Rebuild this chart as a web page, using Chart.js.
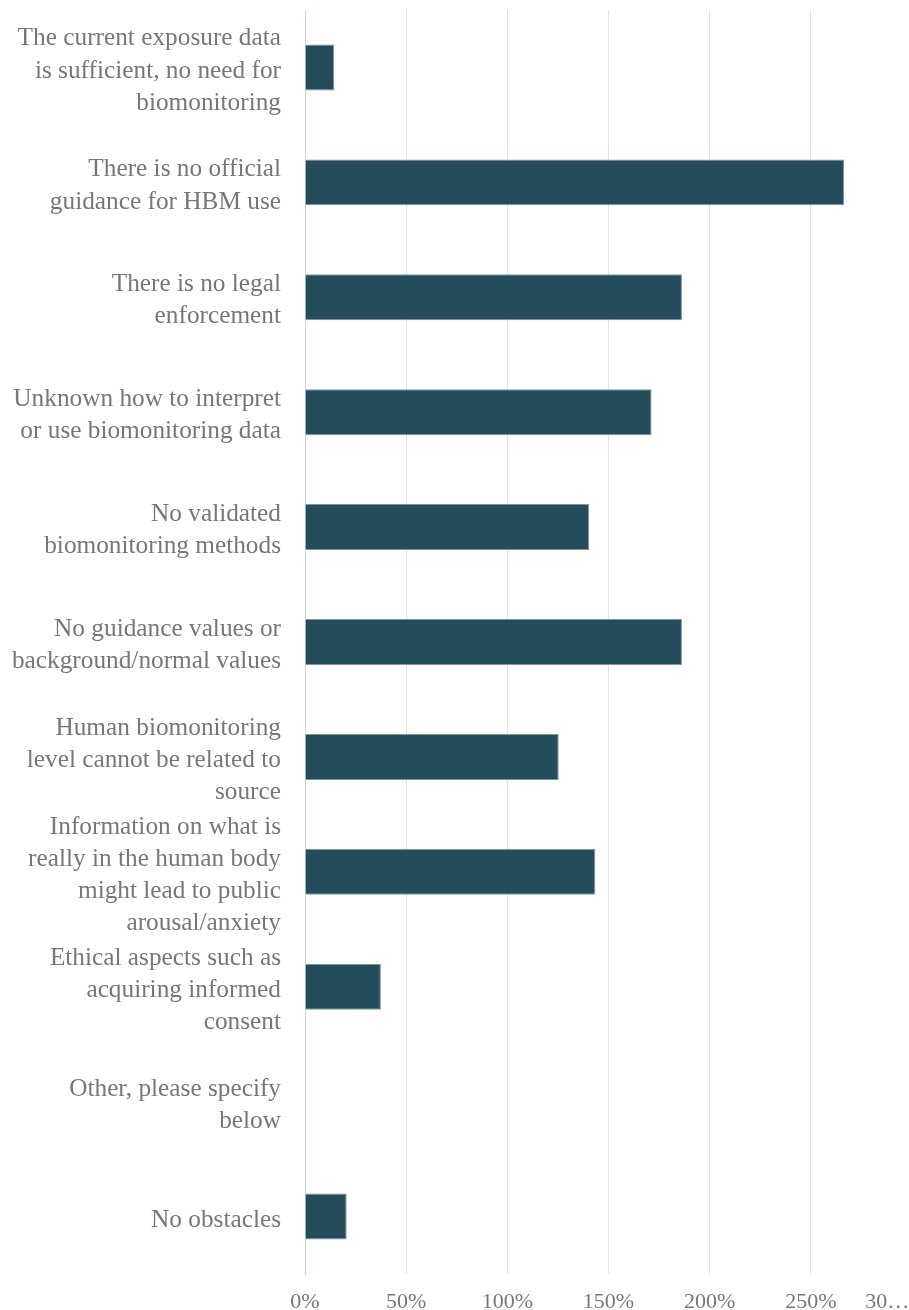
<!DOCTYPE html>
<html>
<head>
<meta charset="utf-8">
<script src="https://cdn.jsdelivr.net/npm/chart.js@4/dist/chart.umd.min.js"></script>
<style>
  html, body { margin: 0; padding: 0; background: #ffffff; overflow: hidden; }
  #wrap { position: relative; width: 912px; height: 1310px; }
</style>
</head>
<body>
<div id="wrap"><canvas id="chart"></canvas></div>
<script>
// Obstacles to using human biomonitoring (share of responses)
const obstacles = [
  ["The current exposure data", "is sufficient, no need for", "biomonitoring"],
  ["There is no official", "guidance for HBM use"],
  ["There is no legal", "enforcement"],
  ["Unknown how to interpret", "or use biomonitoring data"],
  ["No validated", "biomonitoring methods"],
  ["No guidance values or", "background/normal values"],
  ["Human biomonitoring", "level cannot be related to", "source"],
  ["Information on what is", "really in the human body", "might lead to public", "arousal/anxiety"],
  ["Ethical aspects such as", "acquiring informed", "consent"],
  ["Other, please specify", "below"],
  ["No obstacles"]
];

const shares = [14.5, 266.4, 186.3, 171.3, 140.5, 186.3, 125.4, 143.5, 37.5, 0, 20.6];

const axisMax = 300;
const axisStep = 50;
// the last tick label is shown cut short, padded so it stays inside the frame
const lastTickLabel = "30\u2026         ";

const serif = '"Liberation Serif", "Times New Roman", serif';
const labelGrey = '#777777';

new Chart(document.getElementById('chart'), {
  type: 'bar',
  data: {
    labels: obstacles,
    datasets: [{
      data: shares,
      backgroundColor: '#244c5a',
      borderColor: '#7d98a4',
      borderWidth: 1,
      categoryPercentage: 1.0,
      barPercentage: 0.4
    }]
  },
  options: {
    indexAxis: 'y',
    responsive: true,
    maintainAspectRatio: false,
    animation: false,
    devicePixelRatio: 1,
    layout: { padding: { top: 10, right: 0, bottom: 0, left: 0 } },
    plugins: {
      legend: { display: false },
      tooltip: { enabled: false }
    },
    scales: {
      x: {
        min: 0,
        max: axisMax,
        grid: { color: '#e4e4e4', lineWidth: 1, drawTicks: false },
        border: { display: false },
        ticks: {
          stepSize: axisStep,
          padding: 15,
          color: labelGrey,
          font: { family: serif, size: 22 },
          maxRotation: 0,
          callback: v => (v === axisMax ? lastTickLabel : v + '%')
        },
        afterFit: s => { s.height = 36; s.paddingRight = 0; s.paddingLeft = 0; }
      },
      y: {
        grid: { display: false, drawTicks: false },
        border: { display: true, color: '#c8d5ee', width: 1 },
        ticks: {
          padding: 24,
          labelOffset: 3.5,
          color: labelGrey,
          font: { family: serif, size: 25.3, lineHeight: 1.27 },
          autoSkip: false
        },
        afterFit: s => { s.width = 305; s.paddingTop = 0; s.paddingBottom = 0; }
      }
    }
  }
});
</script>
</body>
</html>
